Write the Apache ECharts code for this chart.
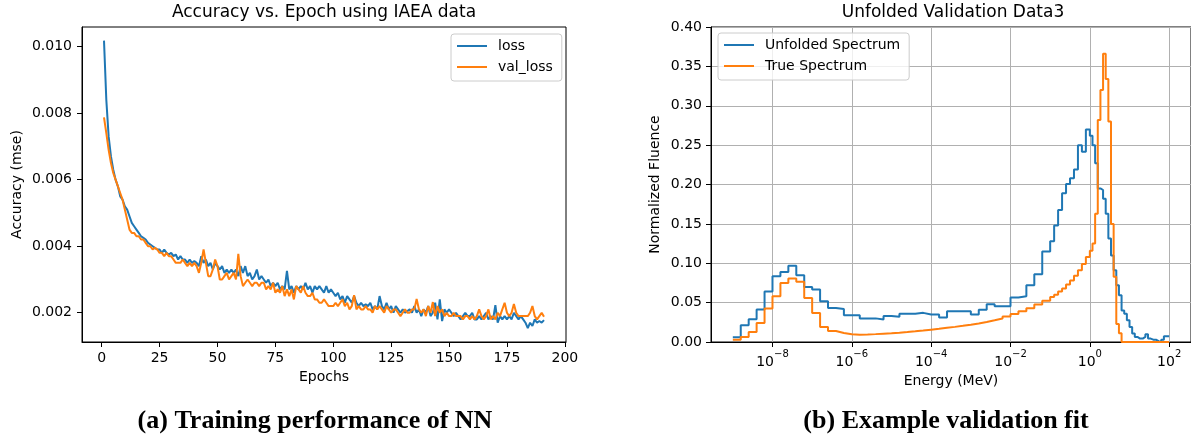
<!DOCTYPE html>
<html><head><meta charset="utf-8">
<script src="https://cdn.jsdelivr.net/npm/echarts@6/dist/echarts.min.js"></script>
<style>html,body{margin:0;padding:0;background:#fff}#c{width:1191px;height:438px}</style>
</head><body><div id="c"></div>
<script>
// ---------- Panel (a): training history ----------
const lossValues = [
0.01018,0.0084,0.0073,0.0067,0.0063,0.0060,0.0058,0.0055,0.0054,0.0052,
0.0051,0.0049,0.0047,0.0046,0.0045,0.0044,0.0043,0.00425,0.0042,0.0041,
0.00405,0.0040,0.00395,0.0039,0.0039,0.0038,0.0039,0.0038,0.00375,0.0038,
0.0037,0.00375,0.0036,0.0037,0.0036,0.0036,0.0035,0.0036,0.0035,0.00355,
0.0035,0.0034,0.0037,0.0035,0.0036,0.0034,0.0035,0.0033,0.0035,0.0034,
0.0033,0.0034,0.0032,0.0033,0.0032,0.0033,0.0032,0.0033,0.0031,0.0034,
0.0032,0.0034,0.0031,0.0032,0.0030,0.0031,0.0033,0.0030,0.0031,0.0030,
0.0029,0.0030,0.0028,0.0029,0.0028,0.0029,0.0027,0.0028,0.0027,0.00326,
0.0027,0.0028,0.0026,0.0028,0.0027,0.0028,0.0027,0.0029,0.0027,0.0028,
0.0026,0.0028,0.0027,0.0028,0.0027,0.0026,0.0028,0.0026,0.0027,0.0026,
0.0025,0.0026,0.0024,0.0025,0.0023,0.0025,0.0024,0.0023,0.0025,0.0023,
0.0022,0.0023,0.0022,0.00225,0.0022,0.0023,0.0021,0.0022,0.0021,0.0025,
0.0022,0.0021,0.0023,0.0021,0.0022,0.0020,0.0022,0.0021,0.0020,0.0021,
0.0020,0.00205,0.0021,0.0020,0.0022,0.0020,0.0021,0.0019,0.0021,0.0020,
0.0022,0.0019,0.0020,0.0023,0.0018,0.0024,0.00175,0.0021,0.0020,0.0021,
0.0020,0.0019,0.0020,0.0019,0.0018,0.0019,0.0020,0.0019,0.0019,0.0020,
0.0018,0.0018,0.0019,0.0018,0.0019,0.0020,0.0018,0.0019,0.0018,0.00223,
0.0017,0.0019,0.0018,0.0019,0.0018,0.0019,0.0018,0.0020,0.0019,0.0018,
0.0019,0.0018,0.0017,0.00154,0.0017,0.0016,0.0018,0.0017,0.00175,0.0017,
0.00178];
const valLossValues = [
0.00787,0.0074,0.0069,0.0065,0.0062,0.0060,0.0058,0.0056,0.0054,0.0051,
0.0048,0.0045,0.0044,0.0044,0.0043,0.0043,0.0042,0.0042,0.0041,0.0040,
0.0040,0.0039,0.00395,0.0039,0.0038,0.0038,0.0037,0.0038,0.0037,0.0037,
0.0036,0.0035,0.0035,0.0035,0.0036,0.0035,0.0034,0.0035,0.0034,0.0035,
0.0034,0.0032,0.0035,0.0039,0.0035,0.0031,0.0031,0.0033,0.0036,0.0034,
0.0030,0.0030,0.0031,0.0032,0.0030,0.0031,0.0032,0.0030,0.00377,0.0031,
0.0028,0.0029,0.0030,0.0029,0.0028,0.0029,0.0029,0.0028,0.0029,0.0029,
0.0027,0.0028,0.0027,0.0029,0.0026,0.0027,0.0026,0.0028,0.0025,0.0027,
0.0025,0.0027,0.0024,0.0028,0.0027,0.0026,0.0028,0.0026,0.0025,0.0025,
0.0026,0.0024,0.0024,0.0023,0.0023,0.0024,0.0023,0.0022,0.0022,0.0022,
0.0023,0.0022,0.0023,0.0024,0.0022,0.0023,0.0021,0.0022,0.00253,0.0021,
0.0022,0.0021,0.0021,0.0022,0.0021,0.0021,0.0020,0.0022,0.0021,0.0022,
0.0021,0.0020,0.0022,0.0021,0.0020,0.0021,0.0021,0.0020,0.0019,0.0020,
0.0021,0.0020,0.0020,0.0021,0.0021,0.00241,0.0021,0.0020,0.0021,0.0019,
0.0022,0.0020,0.00232,0.0019,0.0022,0.0020,0.0021,0.0019,0.0020,0.0019,
0.0019,0.0020,0.0019,0.0019,0.0019,0.0018,0.0019,0.0019,0.0018,0.0019,
0.0018,0.0019,0.0021,0.0019,0.0018,0.0019,0.0021,0.0018,0.0019,0.0018,
0.0020,0.0019,0.0021,0.0023,0.0020,0.0019,0.0020,0.00226,0.0020,0.0019,
0.0019,0.0019,0.0019,0.0019,0.0020,0.0022,0.0019,0.0018,0.0019,0.0020,
0.00188];
const epochTicks = [0, 25, 50, 75, 100, 125, 150, 175, 200];
const accuracyTicks = [0.002, 0.004, 0.006, 0.008, 0.010];

// ---------- Panel (b): spectra (bin edges as log10 of energy in MeV) ----------
const energyLogEdges = [
-9.0,-8.8,-8.6,-8.4,-8.2,-8.0,-7.8,-7.6,-7.4,-7.2,
-7.0,-6.8,-6.6,-6.4,-6.2,-6.0,-5.8,-5.6,-5.4,-5.2,
-5.0,-4.8,-4.6,-4.4,-4.2,-4.0,-3.8,-3.6,-3.4,-3.2,
-3.0,-2.8,-2.6,-2.4,-2.2,-2.0,-1.8,-1.6,-1.4,-1.2,
-1.0,-0.9,-0.8,-0.7,-0.6,-0.5,-0.4,-0.3,-0.2,-0.1,
0.0,0.0667,0.1333,0.2,0.2667,0.3333,0.4,0.4667,0.5333,0.6,
0.6667,0.7333,0.8,0.8667,0.9333,1.0,1.0667,1.1333,1.2,1.2667,
1.3333,1.4,1.4667,1.5333,1.6,1.6667,1.7333,1.8,1.8667,1.9333,
2.0];
const unfoldedSpectrum = [
0.006,0.0212,0.0289,0.0412,0.0641,0.0836,0.089,0.0967,0.0849,0.070,
0.0667,0.0518,0.0433,0.042,0.034,0.034,0.030,0.030,0.0285,0.033,
0.032,0.036,0.036,0.037,0.035,0.035,0.031,0.039,0.039,0.039,
0.035,0.041,0.048,0.0454,0.0454,0.0565,0.058,0.072,0.086,0.115,
0.128,0.148,0.1675,0.189,0.2006,0.208,0.219,0.250,0.2417,0.270,
0.262,0.250,0.227,0.195,0.193,0.182,0.163,0.1315,0.110,0.091,
0.072,0.0594,0.040,0.036,0.0276,0.019,0.0107,0.0064,0.0043,0.0043,
0.0064,0.0098,0.0043,0.0030,0.0030,0.001,0.000,0.003,0.0072,0.0072];
const trueSpectrum = [
0.0027,0.0064,0.0127,0.024,0.0424,0.058,0.0749,0.0806,0.0764,0.056,
0.0369,0.019,0.014,0.0115,0.0098,0.0093,0.0095,0.0100,0.0106,0.0112,
0.0119,0.0127,0.0136,0.0146,0.0157,0.0168,0.0180,0.0192,0.0205,0.0220,
0.0236,0.0254,0.0275,0.0298,0.0325,0.0355,0.0390,0.0430,0.0475,0.0525,
0.057,0.060,0.064,0.068,0.073,0.078,0.084,0.091,0.099,0.108,
0.116,0.125,0.163,0.282,0.320,0.366,0.334,0.280,0.150,0.083,
0.023,0.011,0,0,0,0,0,0,0,0,
0,0,0,0,0,0,0,0,0,0];
const energyTickExps = [-8, -6, -4, -2, 0, 2];
const fluenceMin = 0, fluenceMax = 0.40, fluenceStep = 0.05;

// ---------- build ----------
const FONT = 'DejaVu Sans';
const BLUE = '#1f77b4', ORANGE = '#ff7f0e';
const epochPairs = arr => arr.map((v, i) => [i + 1, v]);
function stairs(edges, vals) {
  const out = vals.map((v, i) => [Math.pow(10, edges[i]), v]);
  out.push([Math.pow(10, edges[edges.length - 1]), vals[vals.length - 1]]);
  return out;
}
const energyTicks = energyTickExps.map(e => Math.pow(10, e));
const axisBase = {
  axisLine: { show: true, onZero: false, lineStyle: { color: '#000', width: 1 } },
  axisTick: { show: true, length: 5, lineStyle: { color: '#000', width: 1 } },
  axisLabel: { color: '#000', fontFamily: FONT, fontSize: 14 },
  nameTextStyle: { color: '#000', fontFamily: FONT, fontSize: 14 }
};
const legendBase = {
  orient: 'vertical', itemWidth: 30, itemHeight: 14, itemGap: 7,
  padding: [5, 9, 7, 5], borderColor: '#cccccc', borderWidth: 1, borderRadius: 3,
  backgroundColor: 'rgba(255,255,255,0.8)',
  itemStyle: { opacity: 0 },
  lineStyle: { width: 2 },
  textStyle: { color: '#000', fontFamily: FONT, fontSize: 14, padding: [0, 0, 0, 6] }
};

const chart = echarts.init(document.getElementById('c'), null, { renderer: 'canvas' });
chart.setOption({
  animation: false,
  backgroundColor: '#fff',
  grid: [
    { left: 82, top: 27, width: 484, height: 315, show: true, borderColor: '#000', borderWidth: 1, containLabel: false },
    { left: 711, top: 27, width: 484, height: 315, show: true, borderColor: '#000', borderWidth: 1, containLabel: false }
  ],
  xAxis: [
    Object.assign({}, axisBase, {
      type: 'value', gridIndex: 0, min: -8.5, max: 200.5,
      name: 'Epochs', nameLocation: 'middle', nameGap: 28,
      splitLine: { show: false },
      axisTick: Object.assign({}, axisBase.axisTick, { customValues: epochTicks }),
      axisLabel: Object.assign({}, axisBase.axisLabel, { customValues: epochTicks, margin: 9 })
    }),
    Object.assign({}, axisBase, {
      type: 'log', logBase: 10, gridIndex: 1,
      min: Math.pow(10, -9.55), max: Math.pow(10, 2.55),
      name: 'Energy (MeV)', nameLocation: 'middle', nameGap: 29,
      splitLine: { show: true, lineStyle: { color: '#b0b0b0', width: 1 } },
      axisTick: Object.assign({}, axisBase.axisTick, { customValues: energyTicks }),
      axisLabel: Object.assign({}, axisBase.axisLabel, {
        customValues: energyTicks, margin: 7,
        formatter: v => {
          const e = Math.round(Math.log10(v));
          return '{b|10}{s|' + (e < 0 ? '\u2212' : '') + Math.abs(e) + '}';
        },
        rich: {
          b: { fontFamily: FONT, fontSize: 14, color: '#000', lineHeight: 20, verticalAlign: 'bottom' },
          s: { fontFamily: FONT, fontSize: 10, color: '#000', lineHeight: 20, verticalAlign: 'top' }
        }
      })
    })
  ],
  yAxis: [
    Object.assign({}, axisBase, {
      type: 'value', gridIndex: 0, min: 0.00112, max: 0.01059,
      name: 'Accuracy (mse)', nameLocation: 'middle', nameGap: 58,
      splitLine: { show: false },
      axisTick: Object.assign({}, axisBase.axisTick, { customValues: accuracyTicks }),
      axisLabel: Object.assign({}, axisBase.axisLabel, { customValues: accuracyTicks, margin: 10, formatter: v => v.toFixed(3) })
    }),
    Object.assign({}, axisBase, {
      type: 'value', gridIndex: 1, min: fluenceMin, max: fluenceMax, interval: fluenceStep,
      name: 'Normalized Fluence', nameLocation: 'middle', nameGap: 49,
      splitLine: { show: true, lineStyle: { color: '#b0b0b0', width: 1 } },
      axisLabel: Object.assign({}, axisBase.axisLabel, { margin: 9, formatter: v => v.toFixed(2) })
    })
  ],
  legend: [
    Object.assign({}, legendBase, { left: 451, top: 34, data: ['loss', 'val_loss'] }),
    Object.assign({}, legendBase, { left: 718, top: 33, data: ['Unfolded Spectrum', 'True Spectrum'] })
  ],
  series: [
    { name: 'loss', type: 'line', xAxisIndex: 0, yAxisIndex: 0, data: epochPairs(lossValues),
      symbol: 'none', lineStyle: { color: BLUE, width: 2 }, itemStyle: { color: BLUE } },
    { name: 'val_loss', type: 'line', xAxisIndex: 0, yAxisIndex: 0, data: epochPairs(valLossValues),
      symbol: 'none', lineStyle: { color: ORANGE, width: 2 }, itemStyle: { color: ORANGE } },
    { name: 'Unfolded Spectrum', type: 'line', step: 'end', xAxisIndex: 1, yAxisIndex: 1,
      data: stairs(energyLogEdges, unfoldedSpectrum),
      symbol: 'none', lineStyle: { color: BLUE, width: 2 }, itemStyle: { color: BLUE } },
    { name: 'True Spectrum', type: 'line', step: 'end', xAxisIndex: 1, yAxisIndex: 1,
      data: stairs(energyLogEdges, trueSpectrum),
      symbol: 'none', lineStyle: { color: ORANGE, width: 2 }, itemStyle: { color: ORANGE } }
  ],
  graphic: [
    { type: 'text', x: 324, y: 13, style: { text: 'Accuracy vs. Epoch using IAEA data', fill: '#000',
      font: '17px "DejaVu Sans"', textAlign: 'center', textVerticalAlign: 'middle' } },
    { type: 'text', x: 953, y: 13, style: { text: 'Unfolded Validation Data3', fill: '#000',
      font: '17px "DejaVu Sans"', textAlign: 'center', textVerticalAlign: 'middle' } },
    { type: 'text', x: 315, y: 421, style: { text: '(a) Training performance of NN', fill: '#000',
      font: 'bold 26px "Liberation Serif"', textAlign: 'center', textVerticalAlign: 'middle' } },
    { type: 'text', x: 946, y: 421, style: { text: '(b) Example validation fit', fill: '#000',
      font: 'bold 26px "Liberation Serif"', textAlign: 'center', textVerticalAlign: 'middle' } }
  ]
});
</script></body></html>
